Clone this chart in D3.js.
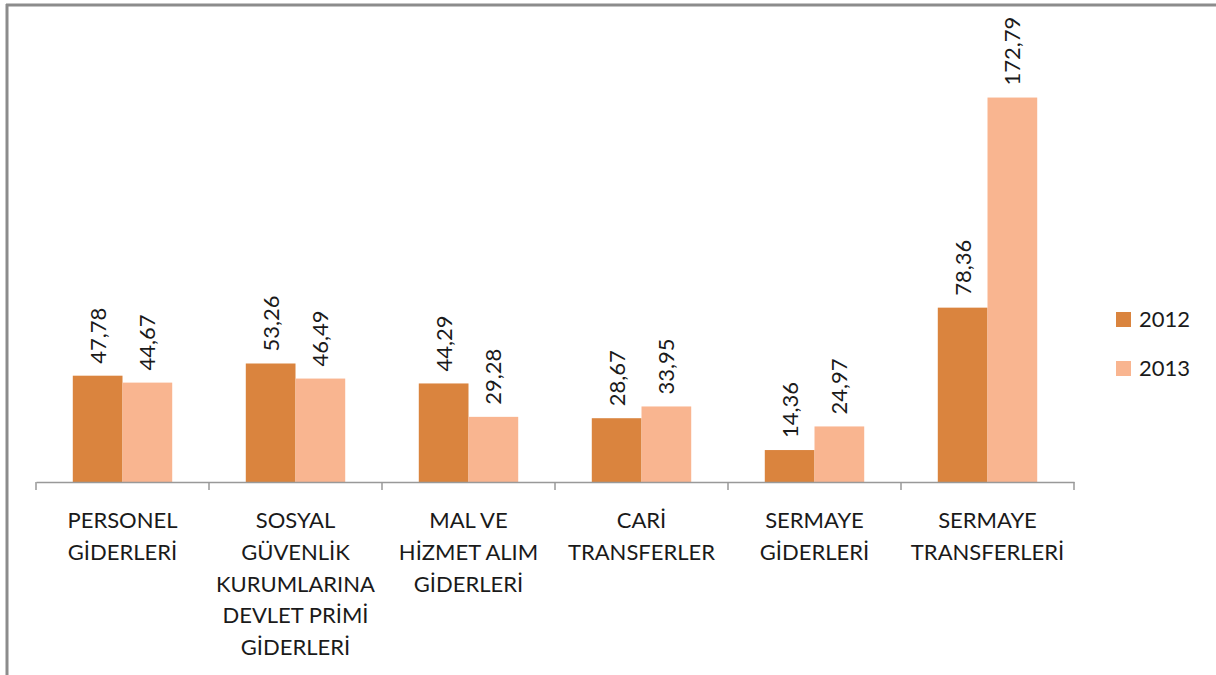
<!DOCTYPE html>
<html>
<head>
<meta charset="utf-8">
<script src="https://cdn.jsdelivr.net/npm/d3@7"></script>
<style>
  body { margin: 0; background: #fff; }
  svg text { font-family: Lato, "Open Sans", sans-serif; fill: #1a1a1a; }
</style>
</head>
<body>
<div id="chart"></div>
<script>
var categories = [
    ["PERSONEL", "GİDERLERİ"],
    ["SOSYAL", "GÜVENLİK", "KURUMLARINA", "DEVLET PRİMİ", "GİDERLERİ"],
    ["MAL VE", "HİZMET ALIM", "GİDERLERİ"],
    ["CARİ", "TRANSFERLER"],
    ["SERMAYE", "GİDERLERİ"],
    ["SERMAYE", "TRANSFERLERİ"]
];
var seriesNames = ["2012", "2013"];
var values2012 = [47.78, 53.26, 44.29, 28.67, 14.36, 78.36];
var values2013 = [44.67, 46.49, 29.28, 33.95, 24.97, 172.79];

var colors = ["#DA843E", "#F9B590"];

var W = 1216, H = 675;
var plot = {left: 36, right: 1074, top: 37, bottom: 482};

var svg = d3.select("#chart").append("svg")
    .attr("width", W)
    .attr("height", H);

// frame (only top and left edges show)
svg.append("line")
    .attr("x1", 6).attr("x2", W)
    .attr("y1", 5).attr("y2", 5)
    .attr("stroke", "#8c8c8c").attr("stroke-width", 3);
svg.append("line")
    .attr("x1", 7).attr("x2", 7)
    .attr("y1", 4).attr("y2", H)
    .attr("stroke", "#8c8c8c").attr("stroke-width", 3);

var idx = d3.range(categories.length);

var x = d3.scaleBand()
    .domain(idx)
    .range([plot.left, plot.right])
    .paddingInner(0)
    .paddingOuter(0);

var inner = d3.scaleBand()
    .domain(seriesNames)
    .range([0, x.bandwidth()])
    .paddingOuter(0.74)
    .paddingInner(0);

var y = d3.scaleLinear()
    .domain([0, 200])
    .range([plot.bottom, plot.top]);

var rows = [];
idx.forEach(function(i) {
    rows.push({cat: i, s: "2012", v: values2012[i]});
    rows.push({cat: i, s: "2013", v: values2013[i]});
});

svg.selectAll("rect.bar")
    .data(rows)
    .enter()
    .append("rect")
        .attr("class", "bar")
        .attr("x", function(d) { return x(d.cat) + inner(d.s); })
        .attr("width", inner.bandwidth())
        .attr("y", function(d) { return y(d.v); })
        .attr("height", function(d) { return y(0) - y(d.v); })
        .attr("fill", function(d) { return colors[seriesNames.indexOf(d.s)]; });

// value labels, rotated
svg.selectAll("text.val")
    .data(rows)
    .enter()
    .append("text")
        .attr("class", "val")
        .attr("transform", function(d) {
            var cx = x(d.cat) + inner(d.s) + inner.bandwidth() / 2;
            return "translate(" + (cx + 8) + "," + (y(d.v) - 12) + ") rotate(-90)";
        })
        .attr("font-size", 22)
        .text(function(d) { return d.v.toFixed(2).replace(".", ","); });

// axis
var axis = svg.append("g")
    .attr("transform", "translate(0," + plot.bottom + ")")
    .call(d3.axisBottom(x).tickValues([]).tickSizeOuter(0));
axis.select(".domain").attr("stroke", "#999").attr("stroke-width", 1.5);

var ticks = idx.map(function(i) { return x(i); }).concat([plot.right]);
svg.selectAll("line.tick")
    .data(ticks)
    .enter()
    .append("line")
        .attr("class", "tick")
        .attr("x1", function(d) { return d; })
        .attr("x2", function(d) { return d; })
        .attr("y1", plot.bottom)
        .attr("y2", plot.bottom + 8)
        .attr("stroke", "#999")
        .attr("stroke-width", 1.5);

// category labels
var catText = svg.selectAll("text.cat")
    .data(categories)
    .enter()
    .append("text")
        .attr("class", "cat")
        .attr("text-anchor", "middle")
        .attr("font-size", 22)
        .attr("x", function(d, i) { return x(i) + x.bandwidth() / 2; })
        .attr("y", 528);

catText.selectAll("tspan")
    .data(function(d) { return d; })
    .enter()
    .append("tspan")
        .attr("x", function() { return d3.select(this.parentNode).attr("x"); })
        .attr("dy", function(d, i) { return i === 0 ? 0 : 31.8; })
        .text(function(d) { return d; });

// legend
var legend = svg.selectAll("g.legend")
    .data(seriesNames)
    .enter()
    .append("g")
        .attr("class", "legend")
        .attr("transform", function(d, i) { return "translate(1116," + (312 + i * 49) + ")"; });

legend.append("rect")
    .attr("width", 15)
    .attr("height", 15)
    .attr("fill", function(d, i) { return colors[i]; });

legend.append("text")
    .attr("x", 23)
    .attr("y", 15)
    .attr("font-size", 22)
    .text(function(d) { return d; });
</script>
</body>
</html>
